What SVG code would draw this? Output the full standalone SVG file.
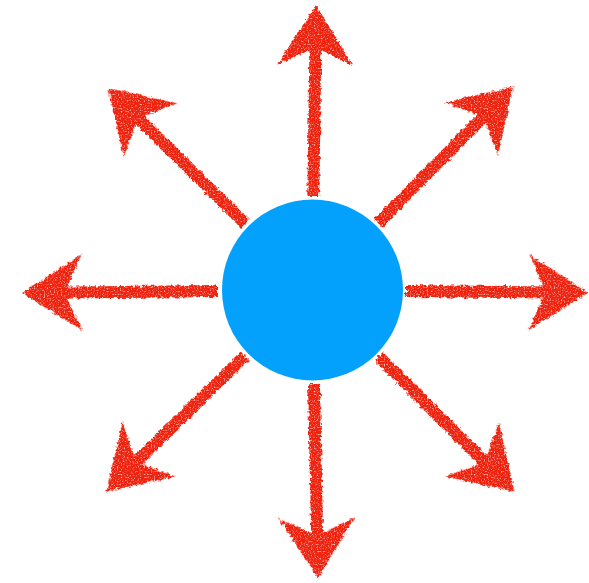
<svg xmlns="http://www.w3.org/2000/svg" width="589" height="583" viewBox="0 0 589 583">
<defs>
<style>
.arrow{fill:#ee2210;}
.node{fill:#03a1fb;}
</style>
<filter id="crayon" filterUnits="userSpaceOnUse" x="0" y="0" width="589" height="583">
<feTurbulence type="fractalNoise" baseFrequency="0.3" numOctaves="2" seed="3" result="n"/>
<feDisplacementMap in="SourceGraphic" in2="n" scale="5" xChannelSelector="R" yChannelSelector="G" result="d"/>
<feTurbulence type="fractalNoise" baseFrequency="0.7" numOctaves="1" seed="7" result="n2"/>
<feColorMatrix in="n2" type="matrix" values="0 0 0 0 0  0 0 0 0 0  0 0 0 0 0  0 0 0 -2.5 2.3" result="mask"/>
<feComposite in="d" in2="mask" operator="in"/>
</filter>
</defs>
<g id="connectors" filter="url(#crayon)">
<path class="arrow" transform="translate(312 290) rotate(-89.2)" d="M94,-6 L240,-6 L225,-38 L285,0 L225,38 L240,6 L94,6 Z"/>
<path class="arrow" transform="translate(312 290) rotate(179.4)" d="M94,-6 L245,-6 L230,-38 L290,0 L230,38 L245,6 L94,6 Z"/>
<path class="arrow" transform="translate(312 290) rotate(0.6)" d="M94,-6 L231,-6 L217,-38 L276,0 L217,38 L231,6 L94,6 Z"/>
<path class="arrow" transform="translate(312 290) rotate(88.8)" d="M94,-6 L243,-6 L228,-38 L288,0 L228,38 L243,6 L94,6 Z"/>
<path class="arrow" transform="translate(312 290) rotate(-135.3)" d="M94,-6 L242,-6 L227,-38 L287,0 L227,38 L242,6 L94,6 Z"/>
<path class="arrow" transform="translate(312 290) rotate(-45.3)" d="M94,-6 L241,-6 L226,-38 L286,0 L226,38 L241,6 L94,6 Z"/>
<path class="arrow" transform="translate(312 290) rotate(135.6)" d="M94,-6 L243,-6 L228,-38 L288,0 L228,38 L243,6 L94,6 Z"/>
<path class="arrow" transform="translate(312 290) rotate(44.9)" d="M94,-6 L241,-6 L226,-38 L286,0 L226,38 L241,6 L94,6 Z"/>
</g>
<g id="center">
<circle class="node" cx="312.5" cy="290" r="90.5"/>
</g>
</svg>
